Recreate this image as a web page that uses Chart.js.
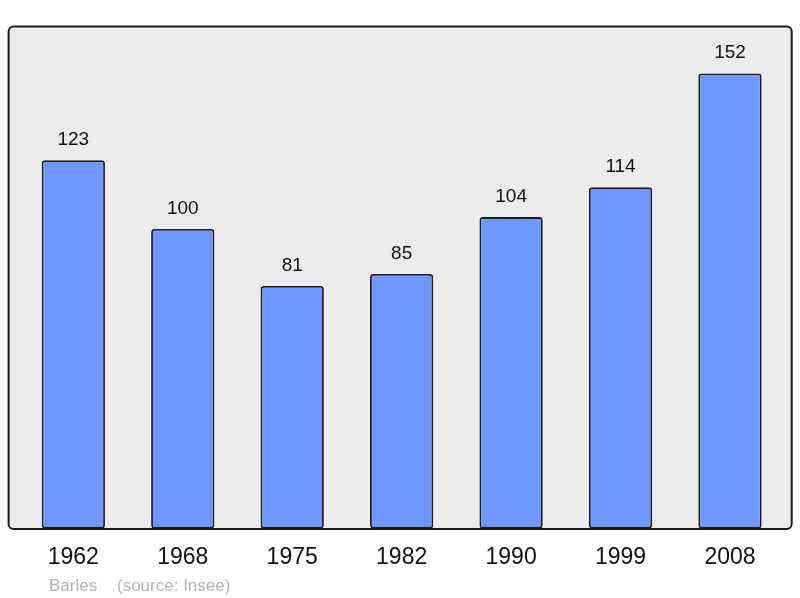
<!DOCTYPE html>
<html>
<head>
<meta charset="utf-8">
<script src="https://cdn.jsdelivr.net/npm/chart.js@4"></script>
<style>
  html, body { margin: 0; padding: 0; background: #fff; }
  #wrap { width: 800px; height: 598px; }
</style>
</head>
<body>
<div id="wrap"><canvas id="chart"></canvas></div>
<script>
// données
const years = ['1962', '1968', '1975', '1982', '1990', '1999', '2008'];
const population = [123, 100, 81, 85, 104, 114, 152];
const placeName = 'Barles';
const sourceText = '(source: Insee)';

// cadre gris arrondi derrière les barres
const framePlugin = {
  id: 'frame',
  beforeDatasetsDraw(chart) {
    const { ctx, chartArea } = chart;
    const x0 = chartArea.left - 10, x1 = chartArea.right + 7;
    const y0 = chartArea.top - 0.5, y1 = chartArea.bottom + 0.5;
    ctx.save();
    ctx.beginPath();
    ctx.roundRect(x0, y0, x1 - x0, y1 - y0, 5);
    ctx.fillStyle = '#ececec';
    ctx.fill();
    ctx.lineWidth = 2;
    ctx.strokeStyle = '#1a1a1a';
    ctx.stroke();
    ctx.restore();
  },
  afterDraw(chart) {
    const { ctx } = chart;
    const meta = chart.getDatasetMeta(0);
    ctx.save();
    // valeurs au-dessus des barres
    ctx.fillStyle = '#111';
    ctx.font = '19px "Liberation Sans", Arial, sans-serif';
    ctx.textAlign = 'center';
    ctx.textBaseline = 'alphabetic';
    meta.data.forEach((bar, i) => {
      ctx.fillText(String(population[i]), bar.x, bar.y - 15);
    });
    // légende de la source
    ctx.fillStyle = '#b4b4b4';
    ctx.font = '17px "Liberation Sans", Arial, sans-serif';
    ctx.textAlign = 'left';
    ctx.fillText(placeName, 49, 591);
    ctx.fillText(sourceText, 117, 591);
    ctx.restore();
  }
};

new Chart(document.getElementById('chart'), {
  type: 'bar',
  data: {
    labels: years,
    datasets: [{
      data: population,
      backgroundColor: '#7096ff',
      borderColor: '#1a1a1a',
      borderWidth: 1.8,
      borderRadius: 3,
      borderSkipped: false,
      barPercentage: 0.578,
      categoryPercentage: 1
    }]
  },
  options: {
    responsive: true,
    maintainAspectRatio: false,
    animation: false,
    devicePixelRatio: 1,
    layout: { padding: { left: 18.6, right: 15.3, top: 27, bottom: 20 } },
    plugins: {
      legend: { display: false },
      tooltip: { enabled: false }
    },
    scales: {
      x: {
        grid: { display: false },
        border: { display: false },
        ticks: {
          color: '#111',
          padding: 7,
          font: { family: '"Liberation Sans", Arial, sans-serif', size: 23 }
        }
      },
      y: {
        display: false,
        min: 0,
        max: 167.5
      }
    }
  },
  plugins: [framePlugin]
});
</script>
</body>
</html>
